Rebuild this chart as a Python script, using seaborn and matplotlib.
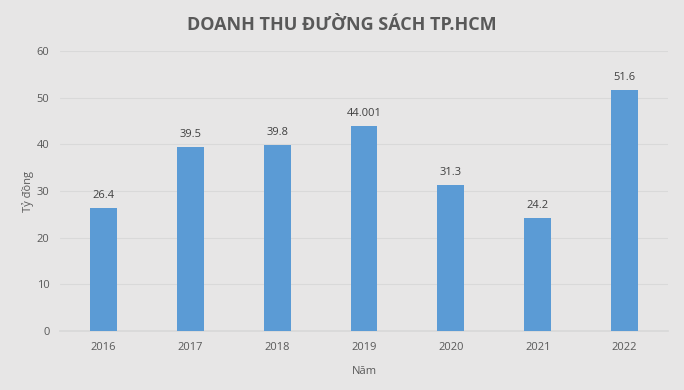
import matplotlib
matplotlib.use("Agg")
import matplotlib.pyplot as plt
import seaborn as sns
import pandas as pd

years = ["2016", "2017", "2018", "2019", "2020", "2021", "2022"]
revenue = [26.4, 39.5, 39.8, 44.001, 31.3, 24.2, 51.6]
labels = ["26.4", "39.5", "39.8", "44.001", "31.3", "24.2", "51.6"]
yticks = [0, 10, 20, 30, 40, 50, 60]

sns.set_theme(style="white")
plt.rcParams['font.family'] = ['Open Sans', 'DejaVu Sans']

bg = "#E7E6E6"
txt = "#595959"
df = pd.DataFrame({"Năm": years, "Tỷ đồng": revenue})

fig = plt.figure(figsize=(6.84, 3.9), dpi=100, facecolor=bg)
ax = fig.add_axes([0.0877, 0.151, 0.889, 0.718])
ax.set_facecolor(bg)
sns.barplot(data=df, x="Năm", y="Tỷ đồng", color="#5B9BD5", width=0.31,
            saturation=1, linewidth=0, ax=ax, zorder=3)
ax.set_ylim(0, 60)
ax.set_yticks(yticks)
ax.set_xlim(-0.5, len(years) - 0.5)
ax.grid(axis="y", color="#D9D9D9", linewidth=0.8, zorder=0)
for s in ["top", "right", "left"]:
    ax.spines[s].set_visible(False)
ax.spines["bottom"].set_color("#D9D9D9")
ax.tick_params(axis="both", length=0, labelsize=8, labelcolor=txt)
ax.tick_params(axis="y", pad=7.5)
ax.tick_params(axis="x", pad=8)
ax.set_xlabel("Năm", fontsize=8, color=txt, labelpad=9)
ax.set_ylabel("Tỷ đồng", fontsize=8, color=txt, labelpad=2)
for i, (v, l) in enumerate(zip(revenue, labels)):
    ax.annotate(l, (i, v), xytext=(0, 5), textcoords="offset points",
                ha="center", va="bottom", fontsize=8, color="#404040")
fig.text(0.5, 0.937, "DOANH THU ĐƯỜNG SÁCH TP.HCM", ha="center", va="center",
         fontsize=13, fontweight="bold", color=txt)
fig.savefig("out.png", dpi=100, facecolor=bg)
